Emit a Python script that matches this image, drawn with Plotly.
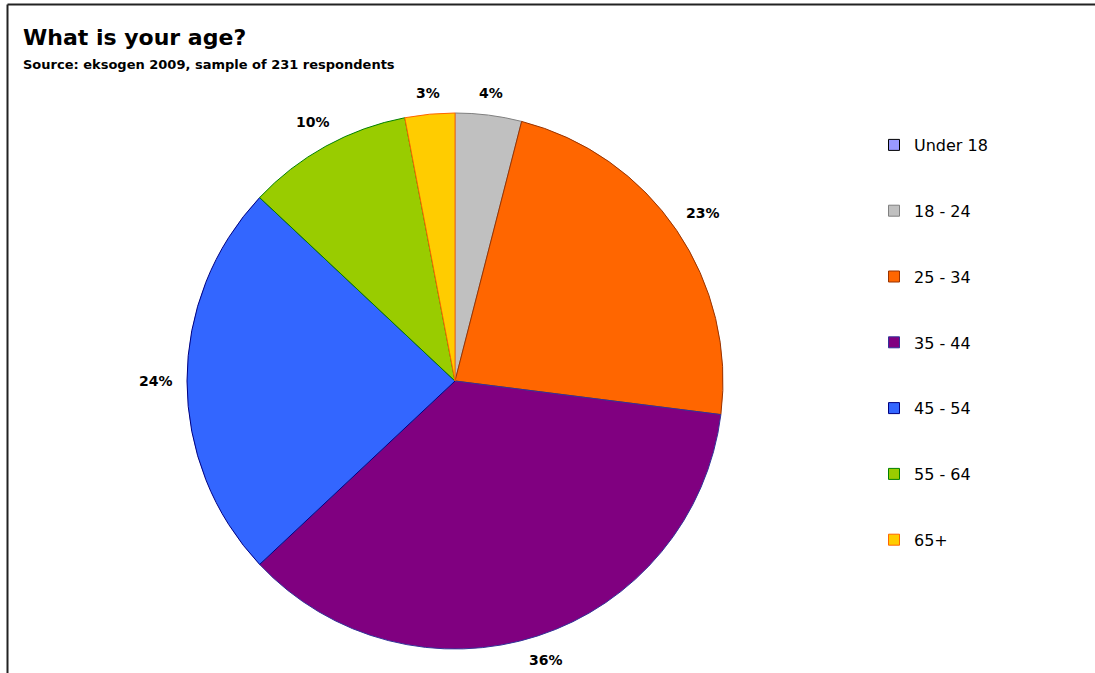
import math
import plotly.graph_objects as go

# Age distribution of survey respondents (percent)
age_groups = ["Under 18", "18 - 24", "25 - 34", "35 - 44", "45 - 54", "55 - 64", "65+"]
shares = [0, 4, 23, 36, 24, 10, 3]

fill_colors = ["#9999FF", "#C0C0C0", "#FF6600", "#800080", "#3366FF", "#99CC00", "#FFCC00"]
edge_colors = ["#000000", "#808080", "#993300", "#333399", "#000080", "#008000", "#FF6600"]

W, H = 1095, 673
cx, cy, r = 455, 381, 268
label_gap = 14            # gap between pie edge and the near side of a label, px
label_w, label_h = 34, 12  # approximate label box size, px

fig = go.Figure()
fig.add_trace(go.Pie(
    labels=age_groups,
    values=shares,
    textinfo="none",
    sort=False,
    direction="clockwise",
    rotation=0,
    marker=dict(colors=fill_colors, line=dict(color=edge_colors, width=1)),
    showlegend=False,
    hoverinfo="label+percent",
    domain=dict(x=[(cx - r) / W, (cx + r) / W], y=[1 - (cy + r) / H, 1 - (cy - r) / H]),
))

# Legend entries, one group each so they can be spaced apart
for i, (name, fc, ec) in enumerate(zip(age_groups, fill_colors, edge_colors)):
    fig.add_trace(go.Scatter(
        x=[None], y=[None], mode="markers", name=name,
        legendgroup=f"g{i}",
        marker=dict(symbol="square", size=11, color=fc, line=dict(color=ec, width=1)),
    ))

# Percentage labels placed outside each slice along its mid-angle
annotations = []
total = sum(shares)
cum = 0.0
for v in shares:
    mid = (cum + v / 2) / total * 2 * math.pi
    cum += v
    if v <= 0:
        continue
    sx, sy = math.sin(mid), -math.cos(mid)
    dist = r + label_gap + abs(sx) * label_w / 2 + abs(sy) * label_h / 2
    px = cx + dist * sx
    py = cy + dist * sy
    annotations.append(dict(
        text=f"<b>{v}%</b>", x=px / W, y=1 - py / H, xref="paper", yref="paper",
        xanchor="center", yanchor="middle", showarrow=False,
        font=dict(family="DejaVu Sans", size=14, color="#000000"),
    ))

annotations += [
    dict(text="<b>What is your age?</b>", x=21 / W, y=1 - 37 / H, xref="paper", yref="paper",
         xanchor="left", yanchor="middle", showarrow=False,
         font=dict(family="DejaVu Sans", size=22, color="#000000")),
    dict(text="<b>Source: eksogen 2009, sample of 231 respondents</b>", x=21 / W, y=1 - 64 / H,
         xref="paper", yref="paper", xanchor="left", yanchor="middle", showarrow=False,
         font=dict(family="DejaVu Sans", size=13, color="#000000")),
]

fig.update_layout(
    width=W, height=H,
    margin=dict(l=0, r=0, t=0, b=0),
    paper_bgcolor="white",
    plot_bgcolor="white",
    xaxis=dict(visible=False),
    yaxis=dict(visible=False),
    legend=dict(
        x=874 / W, y=1 - 128 / H, xanchor="left", yanchor="top",
        font=dict(family="DejaVu Sans", size=16, color="#000000"),
        tracegroupgap=42,
        bgcolor="rgba(0,0,0,0)",
    ),
    annotations=annotations,
    shapes=[
        dict(type="line", xref="paper", yref="paper", x0=7.5 / W, x1=1.02, y0=1 - 4.5 / H, y1=1 - 4.5 / H,
             line=dict(color="#222222", width=2)),
        dict(type="line", xref="paper", yref="paper", x0=7.5 / W, x1=7.5 / W, y0=-0.02, y1=1 - 4.5 / H,
             line=dict(color="#222222", width=2)),
    ],
)

fig.write_html("out.html")
